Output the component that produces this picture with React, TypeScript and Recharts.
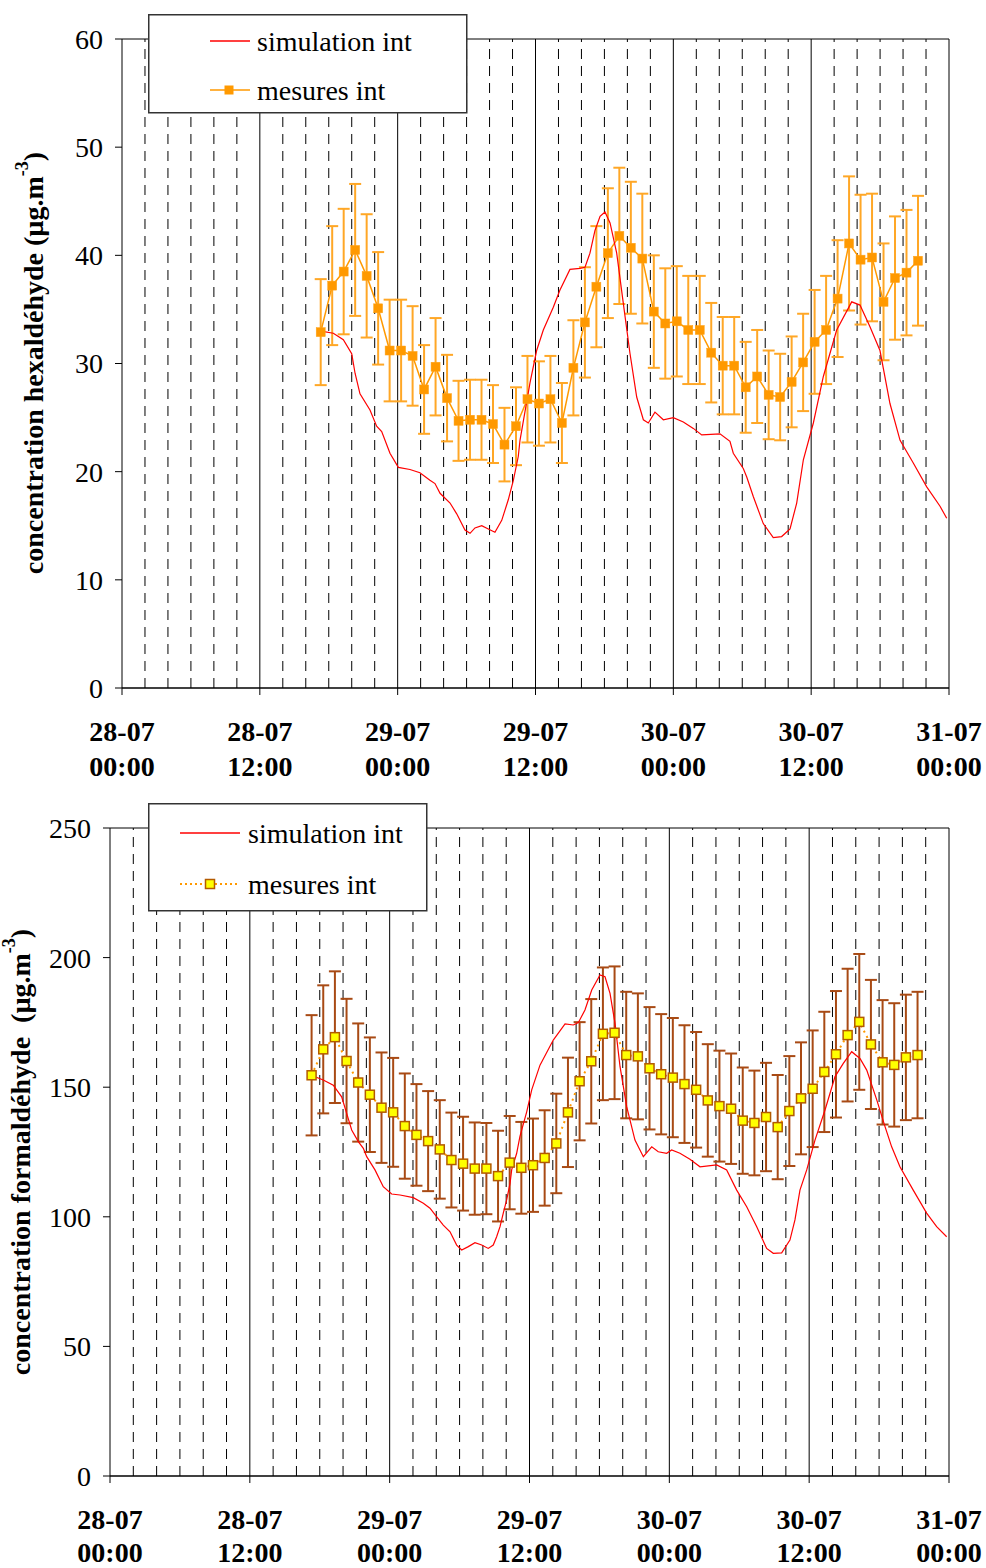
import React from 'react';
import { ComposedChart, Line, XAxis, YAxis, ReferenceLine, ErrorBar, Legend } from 'recharts';

const SERIF = "'Liberation Serif', 'Times New Roman', serif";

// ---- axes / grid ----
const X_TICKS = [0, 12, 24, 36, 48, 60, 72];
const X_TICK_DATES = ['28-07', '28-07', '29-07', '29-07', '30-07', '30-07', '31-07'];
const X_TICK_TIMES = ['00:00', '12:00', '00:00', '12:00', '00:00', '12:00', '00:00'];
const MINOR_GRID = [2, 4, 6, 8, 10, 14, 16, 18, 20, 22, 26, 28, 30, 32, 34, 38, 40, 42, 44, 46, 50, 52, 54, 56, 58, 62, 64, 66, 68, 70];
const MAJOR_GRID = [12, 24, 36, 48, 60, 72];
const HEX_Y_TICKS = [0, 10, 20, 30, 40, 50, 60];
const FORM_Y_TICKS = [0, 50, 100, 150, 200, 250];

// ---- measurement times (hours since 28-07 00:00) ----
const MEAS_T = [17.3, 18.3, 19.3, 20.3, 21.3, 22.3, 23.3, 24.3, 25.3, 26.3, 27.3, 28.3, 29.3, 30.3, 31.3, 32.3, 33.3, 34.3, 35.3, 36.3, 37.3, 38.3, 39.3, 40.3, 41.3, 42.3, 43.3, 44.3, 45.3, 46.3, 47.3, 48.3, 49.3, 50.3, 51.3, 52.3, 53.3, 54.3, 55.3, 56.3, 57.3, 58.3, 59.3, 60.3, 61.3, 62.3, 63.3, 64.3, 65.3, 66.3, 67.3, 68.3, 69.3];

// ---- hexaldehyde ----
const HEX_MEAS = [32.9, 37.2, 38.5, 40.5, 38.1, 35.1, 31.2, 31.2, 30.7, 27.6, 29.7, 26.8, 24.7, 24.8, 24.8, 24.4, 22.5, 24.2, 26.7, 26.3, 26.7, 24.5, 29.6, 33.8, 37.1, 40.2, 41.8, 40.7, 39.7, 34.8, 33.7, 33.9, 33.1, 33.1, 31.0, 29.8, 29.8, 27.8, 28.8, 27.1, 26.9, 28.3, 30.1, 32.0, 33.1, 36.0, 41.1, 39.6, 39.8, 35.7, 37.9, 38.4, 39.5];
const HEX_ERR = [4.9, 5.5, 5.8, 6.1, 5.7, 5.2, 4.7, 4.7, 4.6, 4.1, 4.5, 4.0, 3.7, 3.7, 3.7, 3.6, 3.4, 3.6, 4.0, 3.9, 4.0, 3.7, 4.4, 5.1, 5.6, 6.0, 6.3, 6.1, 6.0, 5.2, 5.1, 5.1, 5.0, 5.0, 4.6, 4.5, 4.5, 4.2, 4.3, 4.1, 4.0, 4.2, 4.5, 4.8, 5.0, 5.4, 6.2, 6.0, 5.9, 5.4, 5.7, 5.8, 6.0];
const HEX_SIM_T = [17.33, 18.4, 19.27, 20.0, 20.29, 20.72, 21.59, 22.17, 22.61, 23.33, 24.06, 25.07, 25.94, 26.81, 27.25, 27.69, 28.56, 29.14, 29.86, 30.3, 30.73, 31.32, 31.89, 32.47, 33.06, 33.63, 34.07, 34.5, 34.65, 35.52, 36.1, 36.68, 37.55, 38.13, 39.0, 39.87, 40.31, 40.74, 41.18, 41.62, 42.05, 42.49, 43.07, 43.64, 44.23, 44.81, 45.39, 45.82, 46.4, 47.13, 48.0, 48.87, 49.74, 50.47, 52.06, 52.93, 53.22, 54.09, 54.39, 54.96, 55.83, 56.7, 57.43, 58.16, 58.74, 59.32, 60.19, 61.06, 62.22, 63.53, 64.25, 65.12, 65.99, 66.86, 67.74, 68.89, 70.06, 71.22, 71.8];
const HEX_SIM_V = [33.0, 32.8, 32.2, 30.9, 29.1, 27.2, 25.7, 24.2, 23.7, 21.7, 20.4, 20.2, 19.9, 19.2, 18.9, 18.0, 17.1, 16.1, 14.6, 14.3, 14.8, 15.0, 14.7, 14.4, 15.5, 17.4, 19.2, 21.4, 22.9, 28.2, 31.2, 33.1, 35.2, 36.8, 38.7, 38.8, 38.9, 40.2, 42.3, 43.6, 44.0, 43.0, 40.2, 35.6, 30.9, 26.9, 24.8, 24.5, 25.5, 24.8, 25.0, 24.6, 24.0, 23.4, 23.5, 22.8, 21.7, 20.3, 19.5, 17.7, 15.2, 13.9, 14.0, 14.7, 17.1, 21.1, 24.5, 28.8, 33.1, 35.7, 35.4, 33.4, 31.2, 26.3, 22.9, 20.8, 18.6, 16.8, 15.7];

// ---- formaldehyde ----
const FORM_MEAS = [154.6, 164.6, 169.3, 160.1, 151.8, 147.1, 142.1, 140.3, 135.0, 131.6, 129.2, 126.0, 121.9, 120.5, 118.6, 118.6, 115.7, 120.9, 118.9, 119.9, 122.7, 128.3, 140.3, 152.3, 160.0, 170.6, 171.0, 162.4, 161.9, 157.3, 155.0, 153.7, 151.2, 149.0, 144.9, 142.7, 141.7, 137.1, 136.2, 138.5, 134.6, 140.8, 145.7, 149.4, 155.9, 162.7, 170.1, 175.2, 166.5, 159.6, 158.6, 161.5, 162.4];
const FORM_ERR = [23.2, 24.7, 25.4, 24.0, 22.8, 22.1, 21.3, 21.0, 20.3, 19.6, 19.3, 19.0, 18.3, 18.1, 17.8, 17.6, 17.5, 18.0, 17.7, 18.0, 18.4, 19.2, 21.1, 22.8, 24.0, 25.6, 25.6, 24.4, 24.3, 23.6, 23.2, 23.0, 22.7, 22.3, 21.7, 21.4, 21.3, 20.5, 20.2, 20.9, 20.1, 21.2, 21.6, 22.5, 23.2, 24.4, 25.6, 26.2, 24.9, 24.0, 23.8, 24.2, 24.4];
const FORM_SIM_T = [17.27, 18.3, 19.16, 19.88, 20.31, 20.74, 21.31, 21.74, 22.03, 22.74, 23.45, 24.17, 24.89, 26.03, 26.89, 27.46, 28.04, 28.6, 29.18, 29.75, 30.18, 30.75, 31.32, 31.9, 32.46, 32.89, 33.18, 33.47, 33.75, 34.04, 34.33, 34.47, 34.9, 35.18, 35.76, 36.19, 36.9, 38.04, 39.05, 39.76, 40.19, 40.76, 41.34, 42.05, 42.48, 42.91, 43.34, 43.77, 44.34, 45.05, 45.77, 46.49, 47.05, 47.77, 48.2, 48.91, 49.77, 50.63, 52.06, 52.92, 53.78, 54.64, 55.5, 56.35, 56.92, 57.64, 58.35, 58.78, 59.21, 59.79, 60.5, 61.36, 62.22, 62.93, 63.65, 64.36, 64.94, 65.8, 66.51, 67.08, 67.79, 68.93, 70.08, 70.94, 71.8];
const FORM_SIM_V = [154.6, 152.8, 150.8, 146.3, 139.9, 133.5, 129.0, 126.4, 123.2, 118.1, 111.6, 108.8, 108.4, 107.4, 105.2, 103.3, 100.0, 96.8, 94.2, 89.1, 87.2, 88.5, 90.0, 89.1, 87.8, 89.1, 92.3, 96.2, 101.4, 106.5, 112.9, 118.1, 124.5, 131.0, 140.5, 149.0, 158.5, 168.2, 174.4, 174.0, 174.9, 179.8, 187.5, 193.3, 192.6, 186.2, 174.6, 157.9, 142.5, 129.6, 123.2, 127.0, 125.1, 124.5, 125.8, 124.5, 122.2, 119.3, 120.0, 118.1, 110.3, 103.9, 96.2, 87.8, 85.9, 86.1, 91.0, 98.8, 110.3, 118.1, 129.6, 141.2, 154.1, 159.2, 163.7, 161.1, 156.6, 145.1, 134.8, 127.0, 119.3, 110.3, 101.4, 96.2, 92.3];

const SIM_LABEL = 'simulation int';
const MEAS_LABEL = 'mesures int';

const hexMeasData = MEAS_T.map((t, i) => ({ t, v: HEX_MEAS[i], e: HEX_ERR[i] }));
const hexSimData = HEX_SIM_T.map((t, i) => ({ t, v: HEX_SIM_V[i] }));
const formMeasData = MEAS_T.map((t, i) => ({ t, v: FORM_MEAS[i], e: FORM_ERR[i] }));
const formSimData = FORM_SIM_T.map((t, i) => ({ t, v: FORM_SIM_V[i] }));

const OrangeSquare = (props: any) => {
  const { cx, cy } = props;
  if (cx == null || cy == null) return <g />;
  return <rect x={cx - 4.5} y={cy - 4.5} width={9} height={9} fill="#FF9900" stroke="#FFA31A" strokeWidth={0.5} />;
};

const YellowSquare = (props: any) => {
  const { cx, cy } = props;
  if (cx == null || cy == null) return <g />;
  return <rect x={cx - 4.5} y={cy - 4.5} width={9} height={9} fill="#FFFF00" stroke="#B35A00" strokeWidth={1.5} />;
};

const makeXTick = (d1: number, d2: number) => (props: any) => {
  const { x, y, payload } = props;
  const i = X_TICKS.indexOf(payload.value);
  return (
    <g>
      <text x={x} y={y + d1} textAnchor="middle" fontFamily={SERIF} fontWeight="bold" fontSize={28} fill="#000">
        {X_TICK_DATES[i]}
      </text>
      <text x={x} y={y + d2} textAnchor="middle" fontFamily={SERIF} fontWeight="bold" fontSize={28} fill="#000">
        {X_TICK_TIMES[i]}
      </text>
    </g>
  );
};

const makeYLabel = (name: string, cx: number, cy: number) => () => (
  <text
    x={cx}
    y={cy}
    transform={`rotate(-90, ${cx}, ${cy})`}
    textAnchor="middle"
    dominantBaseline="central"
    fontFamily={SERIF}
    fontWeight="bold"
    fontSize={28}
    fill="#000"
    style={{ whiteSpace: 'pre' }}
  >
    {name}
    <tspan dy={-11} fontSize={18}>-3</tspan>
    <tspan dy={11}>)</tspan>
  </text>
);

const HexLegend = () => (
  <svg width={320} height={100} style={{ display: 'block' }}>
    <rect x={0.75} y={0.75} width={318} height={98} fill="#fff" stroke="#333" strokeWidth={1.5} />
    <line x1={62} y1={27} x2={102} y2={27} stroke="#FF0000" strokeWidth={1.3} />
    <text x={109} y={27} dominantBaseline="central" fontFamily={SERIF} fontSize={28} fill="#000">{SIM_LABEL}</text>
    <line x1={62} y1={76} x2={102} y2={76} stroke="#FF9900" strokeWidth={1.5} />
    <rect x={76.5} y={71.5} width={9} height={9} fill="#FF9900" />
    <text x={109} y={76} dominantBaseline="central" fontFamily={SERIF} fontSize={28} fill="#000">{MEAS_LABEL}</text>
  </svg>
);

const FormLegend = () => (
  <svg width={280} height={109} style={{ display: 'block' }}>
    <rect x={0.75} y={0.75} width={278} height={107} fill="#fff" stroke="#333" strokeWidth={1.5} />
    <line x1={32} y1={30} x2={92} y2={30} stroke="#FF0000" strokeWidth={1.3} />
    <text x={100} y={30} dominantBaseline="central" fontFamily={SERIF} fontSize={28} fill="#000">{SIM_LABEL}</text>
    <line x1={32} y1={81} x2={92} y2={81} stroke="#FF9900" strokeWidth={2} strokeDasharray="2 3" />
    <rect x={57.5} y={76.5} width={9} height={9} fill="#FFFF00" stroke="#B35A00" strokeWidth={1.5} />
    <text x={100} y={81} dominantBaseline="central" fontFamily={SERIF} fontSize={28} fill="#000">{MEAS_LABEL}</text>
  </svg>
);

type PanelProps = {
  height: number;
  marginTop: number;
  yWidth: number;
  xHeight: number;
  yMax: number;
  yTicks: number[];
  measData: any[];
  simData: any[];
  variant: 'hex' | 'form';
  yLabel: string;
  yLabelX: number;
  yLabelY: number;
  legendTop: number;
  tickOffsets: [number, number];
};

const Panel = (p: PanelProps) => {
  const isHex = p.variant === 'hex';
  return (
    <ComposedChart
      width={986}
      height={p.height}
      margin={{ top: p.marginTop, right: 37, bottom: 0, left: 0 }}
    >
      <XAxis
        type="number"
        dataKey="t"
        domain={[0, 72]}
        ticks={X_TICKS}
        interval={0}
        allowDataOverflow
        height={p.xHeight}
        axisLine={{ stroke: '#000', strokeWidth: 1.5 }}
        tickLine={{ stroke: '#000' }}
        tickSize={7}
        tickMargin={2}
        tick={makeXTick(p.tickOffsets[0], p.tickOffsets[1])}
      />
      <YAxis
        type="number"
        domain={[0, p.yMax]}
        ticks={p.yTicks}
        interval={0}
        allowDataOverflow
        width={p.yWidth}
        axisLine={{ stroke: '#000' }}
        tickLine={{ stroke: '#000' }}
        tickSize={7}
        tickMargin={12}
        tick={{ fontSize: 28, fill: '#000', fontFamily: SERIF }}
        label={makeYLabel(p.yLabel, p.yLabelX, p.yLabelY)}
      />
      {MINOR_GRID.map((h) => (
        <ReferenceLine key={`m${h}`} x={h} stroke="#000" strokeWidth={1} strokeDasharray="10 7" />
      ))}
      {MAJOR_GRID.map((h) => (
        <ReferenceLine key={`M${h}`} x={h} stroke="#000" strokeWidth={1} />
      ))}
      <ReferenceLine y={p.yMax} stroke="#000" strokeWidth={1} />
      <Line
        data={p.measData}
        dataKey="v"
        type="linear"
        stroke="#FF9900"
        strokeWidth={isHex ? 1.5 : 2}
        strokeDasharray={isHex ? undefined : '2 4'}
        dot={isHex ? <OrangeSquare /> : <YellowSquare />}
        activeDot={false}
        isAnimationActive={false}
        legendType="none"
      >
        <ErrorBar
          dataKey="e"
          direction="y"
          width={6}
          stroke={isHex ? '#FFA726' : '#A84A14'}
          strokeWidth={2}
        />
      </Line>
      <Line
        data={p.simData}
        dataKey="v"
        type="linear"
        stroke="#FF0000"
        strokeWidth={1.2}
        dot={false}
        activeDot={false}
        isAnimationActive={false}
        legendType="none"
      />
      <Legend
        layout="vertical"
        align="center"
        verticalAlign="middle"
        wrapperStyle={{ left: 148, top: p.legendTop, width: isHex ? 320 : 280, height: isHex ? 100 : 109 }}
        content={() => (isHex ? <HexLegend /> : <FormLegend />)}
      />
    </ComposedChart>
  );
};

export default function App() {
  return (
    <div style={{ position: 'absolute', left: 0, top: 0, width: 986, height: 1568, background: '#fff' }}>
      <div style={{ position: 'absolute', left: 0, top: 0 }}>
        <Panel
          height={790}
          marginTop={39}
          yWidth={122}
          xHeight={102}
          yMax={60}
          yTicks={HEX_Y_TICKS}
          measData={hexMeasData}
          simData={hexSimData}
          variant="hex"
          yLabel="concentration hexaldéhyde (µg.m"
          yLabelX={33}
          yLabelY={363}
          legendTop={14}
          tickOffsets={[44, 79]}
        />
      </div>
      <div style={{ position: 'absolute', left: 0, top: 790 }}>
        <Panel
          height={778}
          marginTop={38}
          yWidth={110}
          xHeight={92}
          yMax={250}
          yTicks={FORM_Y_TICKS}
          measData={formMeasData}
          simData={formSimData}
          variant="form"
          yLabel="concentration formaldéhyde  (µg.m"
          yLabelX={20}
          yLabelY={362}
          legendTop={13}
          tickOffsets={[44, 77]}
        />
      </div>
    </div>
  );
}
